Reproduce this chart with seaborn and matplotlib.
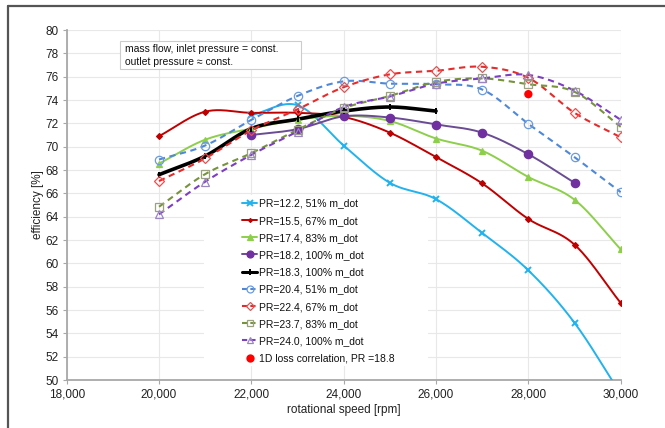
import numpy as np
import pandas as pd
import seaborn as sns
import matplotlib
matplotlib.use("Agg")
import matplotlib.pyplot as plt
from matplotlib.lines import Line2D
from matplotlib.patches import Rectangle

# rotational speed [rpm]
speed = [20000, 21000, 22000, 23000, 24000, 25000, 26000, 27000, 28000, 29000, 30000]

# efficiency [%] per operating line (None = not measured)
pr122_51 = [None, None, 72.7, 73.55, 70.1, 66.9, 65.5, 62.6, 59.4, 54.9, 48.8]
pr155_67 = [70.9, 73.0, 72.9, 72.9, 72.55, 71.2, 69.1, 66.85, 63.8, 61.6, 56.6]
pr174_83 = [68.55, 70.6, 71.55, 72.3, 72.65, 72.2, 70.7, 69.65, 67.4, 65.45, 61.2]
pr182_100 = [None, None, 71.0, 71.5, 72.6, 72.5, 71.9, 71.2, 69.35, 66.9, None]
pr183_100 = [67.6, 69.2, 71.55, 72.35, 73.05, 73.4, 73.05, None, None, None, None]
pr204_51 = [68.9, 70.1, 72.3, 74.35, 75.6, 75.4, 75.35, 74.9, 71.95, 69.1, 66.1]
pr224_67 = [67.05, 69.0, 71.4, 73.2, 75.1, 76.2, 76.5, 76.85, 75.9, 72.9, 70.8]
pr237_83 = [64.85, 67.65, 69.45, 71.45, 73.3, 74.35, 75.55, 75.85, 75.35, 74.7, 71.7]
pr240_100 = [64.2, 67.0, 69.3, 71.3, 73.4, 74.3, 75.4, 75.85, 76.15, 74.8, 72.3]

# single-point estimate from the 1D loss model
loss1d_speed = [28000]
loss1d_eff = [74.5]

labels = [
    "PR=12.2, 51% m_dot",
    "PR=15.5, 67% m_dot",
    "PR=17.4, 83% m_dot",
    "PR=18.2, 100% m_dot",
    "PR=18.3, 100% m_dot",
    "PR=20.4, 51% m_dot",
    "PR=22.4, 67% m_dot",
    "PR=23.7, 83% m_dot",
    "PR=24.0, 100% m_dot",
]
loss1d_label = "1D loss correlation, PR =18.8"

series = [pr122_51, pr155_67, pr174_83, pr182_100, pr183_100,
          pr204_51, pr224_67, pr237_83, pr240_100]

# line colour, marker colour, linestyle, linewidth, marker, marker size, filled
styles = [
    ("#22B2EE", "#22B2EE", "-", 1.4, "x", 5, True),
    ("#C00000", "#C00000", "-", 1.4, "D", 3, True),
    ("#8DCF4B", "#8DCF4B", "-", 1.4, "^", 5, True),
    ("#6A4C93", "#7030A0", "-", 1.4, "o", 6, True),
    ("#000000", "#000000", "-", 2.6, "|", 5, True),
    ("#4F88D8", "#6C9BDB", "--", 1.5, "o", 6, False),
    ("#E52B2B", "#E85050", "--", 1.5, "D", 5, False),
    ("#77933C", "#9AA080", "--", 1.5, "s", 6, False),
    ("#7B3FC0", "#9A86C0", "--", 1.5, "^", 6, False),
]


def smooth(xv, yv, n=24):
    """Cardinal (Catmull-Rom) spline through the measured points."""
    p = np.column_stack([xv, yv]).astype(float)
    if len(p) < 3:
        return p[:, 0], p[:, 1]
    ext = np.vstack([2 * p[0] - p[1], p, 2 * p[-1] - p[-2]])
    out = []
    t = np.linspace(0, 1, n, endpoint=False)[:, None]
    for i in range(1, len(ext) - 2):
        p0, p1, p2, p3 = ext[i - 1], ext[i], ext[i + 1], ext[i + 2]
        m1 = (p2 - p0) / 2.0
        m2 = (p3 - p1) / 2.0
        h00 = 2 * t**3 - 3 * t**2 + 1
        h10 = t**3 - 2 * t**2 + t
        h01 = -2 * t**3 + 3 * t**2
        h11 = t**3 - t**2
        out.append(h00 * p1 + h10 * m1 + h01 * p2 + h11 * m2)
    out.append(p[-1][None, :])
    c = np.vstack(out)
    return c[:, 0], c[:, 1]


sns.set_theme(style="white")
plt.rcParams["font.family"] = ["Liberation Sans", "DejaVu Sans"]

W, H = 665, 428
fig = plt.figure(figsize=(W / 100, H / 100), dpi=100)
ax_l, ax_r, ax_t, ax_b = 66.7, 620.7, 30.0, 380.0
ax = fig.add_axes([ax_l / W, 1 - ax_b / H, (ax_r - ax_l) / W, (ax_b - ax_t) / H])


def ax_frac(px, py):
    return (px - ax_l) / (ax_r - ax_l), (ax_b - py) / (ax_b - ax_t)


handles = []
for vals, lab, (lc, mc, ls, lw, mk, ms, filled) in zip(series, labels, styles):
    df = pd.DataFrame({"speed": speed, "eff": vals}).dropna()
    sx, sy = smooth(df["speed"].values, df["eff"].values)
    curve = pd.DataFrame({"speed": sx, "eff": sy})
    sns.lineplot(data=curve, x="speed", y="eff", sort=False, estimator=None,
                 color=lc, linewidth=lw, ax=ax, zorder=3)
    if ls == "--":
        ax.lines[-1].set_dashes((3.0, 2.2))
    face = mc if filled else "none"
    mew = 1.4 if mk in ("x", "|") else 0.9
    ax.plot(df["speed"], df["eff"], linestyle="none", marker=mk, markersize=ms,
            markerfacecolor=face, markeredgecolor=mc, markeredgewidth=mew,
            zorder=4)
    h = Line2D([], [], color=lc, linestyle=ls, linewidth=min(lw, 2.2),
               marker=mk, markersize=ms - 1, markerfacecolor=face,
               markeredgecolor=mc, markeredgewidth=mew)
    if ls == "--":
        h.set_dashes((2.5, 1.5))
    handles.append(h)

sns.scatterplot(x=loss1d_speed, y=loss1d_eff, color="#FF0000", s=36,
                edgecolor="none", ax=ax, zorder=5)
handles.append(Line2D([], [], linestyle="none", marker="o", markersize=6,
                      markerfacecolor="#FF0000", markeredgecolor="none"))

ax.set_xlim(18000, 30000)
ax.set_ylim(50, 80)
ax.set_xticks(np.arange(18000, 30001, 2000))
ax.set_yticks(np.arange(50, 81, 2))
ax.set_xticklabels([f"{v:,}" for v in range(18000, 30001, 2000)])
ax.grid(True, color="#E8E8E8", linewidth=0.8, zorder=0)
ax.set_axisbelow(True)

for side in ("top", "right"):
    ax.spines[side].set_visible(False)
for side in ("left", "bottom"):
    ax.spines[side].set_color("#A8A8A8")
    ax.spines[side].set_linewidth(1.3)

ax.tick_params(axis="both", which="major", direction="out", length=3,
               width=0.8, color="#A8A8A8", labelsize=8.5, labelcolor="#222222",
               pad=3, left=True, bottom=True)

ax.set_xlabel("rotational speed [rpm]", fontsize=8.5, color="#222222", labelpad=3)
ax.set_ylabel("efficiency [%]", fontsize=8.5, color="#222222", labelpad=1)

# annotation box with the boundary conditions
bx0, by0 = ax_frac(120, 69.3)
bx1, by1 = ax_frac(300.7, 40.7)
ax.add_patch(Rectangle((bx0, by0), bx1 - bx0, by1 - by0, transform=ax.transAxes,
                       facecolor="white", edgecolor="#CCCCCC", linewidth=0.8,
                       zorder=6))
for line, py in (("mass flow, inlet pressure = const.", 49.3),
                 ("outlet pressure \u2248 const.", 62.0)):
    tx, ty = ax_frac(125, py)
    ax.text(tx, ty, line, transform=ax.transAxes, ha="left", va="center",
            fontsize=7.5, color="#111111", zorder=7)

# white panel behind the legend
lx0, ly0 = ax_frac(204, 366)
lx1, ly1 = ax_frac(428, 195)
ax.add_patch(Rectangle((lx0, ly0), lx1 - lx0, ly1 - ly0, transform=ax.transAxes,
                       facecolor="white", edgecolor="none", zorder=1))

ancx, ancy = ax_frac(242, 198.5)
leg = ax.legend(handles, labels + [loss1d_label], loc="upper left",
                bbox_to_anchor=(ancx, ancy), borderaxespad=0,
                fontsize=7.5, frameon=False,
                handlelength=1.45, handletextpad=0.2, labelspacing=0.69,
                borderpad=0)
leg.set_zorder(7)
for t in leg.get_texts():
    t.set_color("#111111")

# outer frame around the figure
fig.add_artist(Line2D([8 / W, 8 / W], [0, 1 - 6 / H],
                      transform=fig.transFigure, color="#555555", linewidth=1.6))
fig.add_artist(Line2D([8 / W, 1], [1 - 6 / H, 1 - 6 / H],
                      transform=fig.transFigure, color="#555555", linewidth=1.6))

fig.savefig("out.png", dpi=100, facecolor="white")
